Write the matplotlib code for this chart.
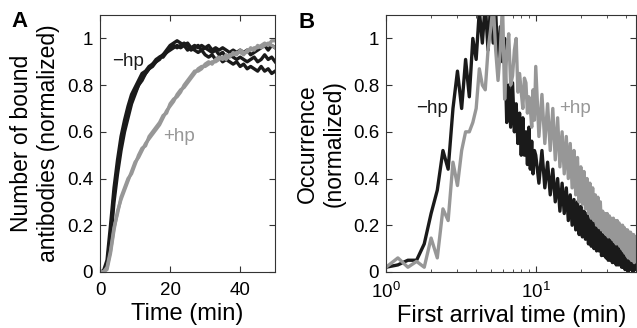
import numpy as np
import matplotlib.pyplot as plt

plt.rcParams['font.family'] = ['Liberation Sans', 'DejaVu Sans']
plt.rcParams['mathtext.fontset'] = 'custom'
plt.rcParams['mathtext.rm'] = 'Liberation Sans'

BLACK = '#1a1a1a'
GRAY = '#979797'

# ---- panel A: bound antibodies vs time (min)
time_min = np.arange(0, 51, 1)

minus_hp_a = [0, 0, 0.03, 0.16, 0.33, 0.45, 0.55, 0.62, 0.68, 0.73, 0.77, 0.80, 0.83, 0.85, 0.87,
              0.89, 0.90, 0.91, 0.93, 0.95, 0.97, 0.98, 0.99, 0.98, 0.97, 0.98, 0.96, 0.97, 0.96,
              0.97, 0.96, 0.97, 0.95, 0.96, 0.95, 0.96, 0.95, 0.94, 0.95, 0.94, 0.95, 0.94, 0.95,
              0.93, 0.94, 0.95, 0.96, 0.97, 0.95, 0.97, 0.96]
minus_hp_b = [0, 0.005, 0.05, 0.20, 0.36, 0.48, 0.58, 0.65, 0.71, 0.76, 0.79, 0.82, 0.85, 0.86, 0.88,
              0.89, 0.91, 0.92, 0.92, 0.94, 0.95, 0.96, 0.97, 0.96, 0.97, 0.95, 0.96, 0.95, 0.94,
              0.95, 0.93, 0.92, 0.93, 0.91, 0.92, 0.90, 0.91, 0.90, 0.89, 0.90, 0.88, 0.89, 0.87,
              0.88, 0.87, 0.86, 0.88, 0.86, 0.87, 0.85, 0.86]
minus_hp_c = [0, 0, 0.02, 0.13, 0.30, 0.42, 0.52, 0.60, 0.66, 0.72, 0.76, 0.80, 0.82, 0.85, 0.87,
              0.88, 0.90, 0.92, 0.93, 0.94, 0.96, 0.97, 0.96, 0.97, 0.98, 0.97, 0.95, 0.96, 0.97,
              0.95, 0.96, 0.95, 0.94, 0.95, 0.93, 0.94, 0.92, 0.93, 0.92, 0.91, 0.92, 0.91, 0.90,
              0.91, 0.92, 0.90, 0.91, 0.93, 0.91, 0.92, 0.90]
plus_hp_a = [0, 0, 0.01, 0.08, 0.18, 0.26, 0.31, 0.35, 0.39, 0.43, 0.47, 0.49, 0.52, 0.55, 0.57,
             0.59, 0.61, 0.63, 0.66, 0.69, 0.71, 0.73, 0.76, 0.78, 0.79, 0.81, 0.83, 0.85, 0.87,
             0.88, 0.88, 0.89, 0.90, 0.90, 0.91, 0.92, 0.91, 0.93, 0.93, 0.94, 0.94, 0.93, 0.95,
             0.95, 0.96, 0.96, 0.97, 0.98, 0.97, 0.99, 0.99]
plus_hp_b = [0, 0, 0.02, 0.09, 0.19, 0.25, 0.32, 0.36, 0.40, 0.42, 0.46, 0.50, 0.53, 0.54, 0.58,
             0.60, 0.62, 0.64, 0.67, 0.68, 0.72, 0.74, 0.75, 0.77, 0.80, 0.82, 0.84, 0.86, 0.86,
             0.87, 0.89, 0.90, 0.89, 0.91, 0.92, 0.91, 0.93, 0.92, 0.94, 0.93, 0.95, 0.94, 0.94,
             0.96, 0.95, 0.97, 0.96, 0.97, 0.98, 0.97, 0.96]

# ---- panel B: first arrival time histogram (bins in min)
arrival_bins = np.concatenate([np.arange(1.0, 9.9, 0.2), np.arange(10.0, 47.01, 0.5)])

minus_hp_occ = [0.02, 0.03, 0.05, 0.05, 0.12, 0.25, 0.35, 0.52, 0.44, 0.70, 0.86, 0.70, 0.91, 0.75,
                1.00, 0.91, 1.12, 0.98, 1.15, 0.95, 1.15, 0.98, 1.12, 0.87, 1.05, 0.90, 1.00, 0.64,
                0.80, 0.62, 0.81, 0.60, 0.72, 0.55, 0.68, 0.50, 0.66, 0.50, 0.60, 0.46, 0.62, 0.44,
                0.56, 0.42, 0.52,
                0.50, 0.38, 0.52, 0.36, 0.47, 0.33, 0.44, 0.30, 0.40, 0.26, 0.38, 0.25, 0.36, 0.22,
                0.33, 0.20, 0.31, 0.18, 0.30, 0.16, 0.28, 0.15, 0.26, 0.14, 0.25, 0.12, 0.23, 0.11,
                0.22, 0.10, 0.20, 0.09, 0.19, 0.09, 0.18, 0.07, 0.16, 0.07, 0.15, 0.06, 0.15, 0.05,
                0.14, 0.05, 0.13, 0.04, 0.12, 0.04, 0.12, 0.03, 0.11, 0.03, 0.10, 0.03, 0.10, 0.02,
                0.09, 0.02, 0.09, 0.01, 0.08, 0.02, 0.08, 0.00, 0.07, 0.01, 0.07, 0.01, 0.06, 0.00,
                0.06, 0.01, 0.05, 0.01, 0.05]
plus_hp_occ = [0.02, 0.06, 0.02, 0.045, 0.02, 0.145, 0.06, 0.27, 0.22, 0.47, 0.37, 0.52, 0.60, 0.60,
               0.64, 0.70, 0.87, 0.80, 0.78, 0.95, 1.04, 1.15, 0.95, 0.82, 0.95, 1.15, 0.74, 0.94,
               1.02, 0.80, 0.84, 0.95, 1.00, 0.77, 0.85, 0.77, 0.70, 0.83, 0.81, 0.68, 0.75, 0.70,
               0.62, 0.78, 0.65,
               0.88, 0.58, 0.76, 0.55, 0.72, 0.52, 0.70, 0.48, 0.66, 0.45, 0.60, 0.42, 0.58, 0.40,
               0.55, 0.36, 0.52, 0.33, 0.49, 0.30, 0.45, 0.29, 0.43, 0.27, 0.40, 0.25, 0.38, 0.23,
               0.36, 0.22, 0.33, 0.20, 0.32, 0.19, 0.30, 0.18, 0.26, 0.17, 0.25, 0.16, 0.25, 0.15,
               0.24, 0.15, 0.23, 0.14, 0.23, 0.13, 0.22, 0.12, 0.22, 0.12, 0.21, 0.11, 0.20, 0.10,
               0.20, 0.09, 0.19, 0.08, 0.18, 0.07, 0.18, 0.06, 0.17, 0.06, 0.17, 0.05, 0.16, 0.05,
               0.16, 0.04, 0.15, 0.05, 0.14]


def style_axes(ax):
    for sp in ax.spines.values():
        sp.set_color('#333333')
        sp.set_linewidth(0.8)
    ax.tick_params(which='both', direction='in', top=True, right=True,
                   color='#333333', labelsize=13.5)
    ax.tick_params(axis='x', which='both', pad=7)
    ax.tick_params(axis='y', which='both', pad=5)
    ax.tick_params(which='major', length=4)
    ax.tick_params(which='minor', length=2.5)


fig = plt.figure(figsize=(6.37, 3.28), dpi=100)

axA = fig.add_axes([0.157, 0.171, 0.275, 0.783])
for tr in (minus_hp_a, minus_hp_b, minus_hp_c):
    axA.plot(time_min, tr, color=BLACK, lw=2.4)
for tr in (plus_hp_a, plus_hp_b):
    axA.plot(time_min, tr, color=GRAY, lw=2.4)
axA.set_xlim(0, 50)
axA.set_ylim(0, 1.1)
axA.set_xticks([0, 20, 40])
axA.set_yticks([0, 0.2, 0.4, 0.6, 0.8, 1])
axA.set_yticklabels(['0', '0.2', '0.4', '0.6', '0.8', '1'])
style_axes(axA)
axA.set_xlabel('Time (min)', fontsize=17, labelpad=3)
axA.set_ylabel('Number of bound\nantibodies (normalized)', fontsize=16.5, labelpad=5)
axA.text(0.07, 0.8, '\u2212hp', transform=axA.transAxes, fontsize=13.5, color=BLACK)
axA.text(0.36, 0.51, '+hp', transform=axA.transAxes, fontsize=13.5, color=GRAY)

axB = fig.add_axes([0.606, 0.171, 0.393, 0.783])
axB.plot(arrival_bins, minus_hp_occ, color=BLACK, lw=2.4)
axB.plot(arrival_bins, plus_hp_occ, color=GRAY, lw=2.4)
axB.set_xscale('log')
axB.set_xlim(1, 47)
axB.set_ylim(0, 1.1)
axB.set_yticks([0, 0.2, 0.4, 0.6, 0.8, 1])
axB.set_yticklabels(['0', '0.2', '0.4', '0.6', '0.8', '1'])
style_axes(axB)
axB.set_xlabel('First arrival time (min)', fontsize=17, labelpad=2)
axB.set_ylabel('Occurrence\n(normalized)', fontsize=16.5, labelpad=5)
axB.text(0.12, 0.62, '\u2212hp', transform=axB.transAxes, fontsize=13.5, color=BLACK)
axB.text(0.69, 0.62, '+hp', transform=axB.transAxes, fontsize=13.5, color=GRAY)

fig.text(11 / 637, 1 - 11 / 328, 'A', fontsize=16, fontweight='bold', va='top')
fig.text(299 / 637, 1 - 12 / 328, 'B', fontsize=16, fontweight='bold', va='top')

fig.savefig('out.png', dpi=100)
